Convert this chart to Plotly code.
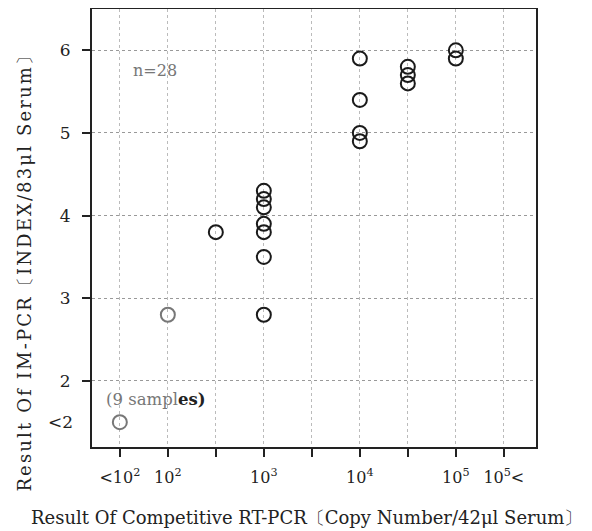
import plotly.graph_objects as go

# Category axis (uniform spacing on the x axis)
x_tick_labels = ["&lt;10<sup>2</sup>", "10<sup>2</sup>", "", "10<sup>3</sup>", "",
                 "10<sup>4</sup>", "", "10<sup>5</sup>", "10<sup>5</sup>&lt;"]
x_tick_positions = [0, 1, 2, 3, 4, 5, 6, 7, 8]

y_tick_values = [2, 3, 4, 5, 6]
y_tick_labels = ["2", "3", "4", "5", "6"]

# Points: category index and IM-PCR result
point_x = [0, 1, 2, 3, 3, 3, 3, 3, 3, 3, 5, 5, 5, 5, 6, 6, 6, 7, 7]
point_y = [1.5, 2.8, 3.8, 4.3, 4.2, 4.1, 3.9, 3.8, 3.5, 2.8, 5.9, 5.4, 5.0, 4.9,
           5.8, 5.7, 5.6, 6.0, 5.9]
point_faint = [True, True] + [False] * 17

serif = "DejaVu Serif, Liberation Serif, serif"

colors = ["#777777" if f else "#1a1a1a" for f in point_faint]

fig = go.Figure()
fig.add_trace(go.Scatter(
    x=point_x, y=point_y, mode="markers",
    marker=dict(symbol="circle-open", size=14, color=colors,
                line=dict(width=2, color=colors)),
    showlegend=False, hoverinfo="skip"))

fig.update_layout(
    width=584, height=523,
    margin=dict(l=84, r=56, t=1, b=84, autoexpand=False),
    paper_bgcolor="white", plot_bgcolor="white",
    font=dict(family=serif, color="#222222", size=15),
    xaxis=dict(range=[-0.58, 8.67], tickmode="array",
               tickvals=x_tick_positions, ticktext=x_tick_labels,
               ticks="outside", ticklen=8, tickwidth=2, tickcolor="#222",
               ticklabelstandoff=7,
               showline=True, linewidth=2, linecolor="#222", mirror=True,
               showgrid=True, gridcolor="#bbbbbb", griddash="dot", gridwidth=1,
               zeroline=False, tickfont=dict(size=16)),
    yaxis=dict(range=[1.2, 6.5], tickmode="array",
               tickvals=y_tick_values, ticktext=y_tick_labels,
               ticks="outside", ticklen=8, tickwidth=2, tickcolor="#222",
               ticklabelstandoff=8,
               showline=True, linewidth=2, linecolor="#222", mirror=True,
               showgrid=True, gridcolor="#999999", griddash="dot", gridwidth=1,
               zeroline=False, tickfont=dict(size=17)),
)

# axis titles as annotations (positioned as in the reference)
fig.add_annotation(x=0.482, y=-0.16, xref="paper", yref="paper",
                   text="Result Of Competitive RT-PCR〔Copy Number/42μl Serum〕",
                   showarrow=False, xanchor="center", yanchor="middle",
                   font=dict(size=18, color="#222"))
fig.add_annotation(x=-0.153, y=0.4075, xref="paper", yref="paper",
                   text="<span style='letter-spacing:2.15px'>Result Of IM-PCR〔INDEX/83μl Serum〕</span>",
                   textangle=-90, showarrow=False, xanchor="center", yanchor="middle",
                   font=dict(size=18, color="#222"))
fig.add_annotation(x=-0.58, y=1.5, xref="x", yref="y", text="&lt;2",
                   showarrow=False, xanchor="right", yanchor="middle",
                   xshift=-17, font=dict(size=17, color="#222"))
fig.add_annotation(x=0.73, y=5.76, xref="x", yref="y", text="n=28",
                   showarrow=False, font=dict(size=16, color="#777777"))
fig.add_annotation(x=0.75, y=1.77, xref="x", yref="y",
                   text="(9 sampl<span style='color:#222'><b>es)</b></span>",
                   showarrow=False, font=dict(size=16.5, color="#777777"))

fig.write_html("out.html")
